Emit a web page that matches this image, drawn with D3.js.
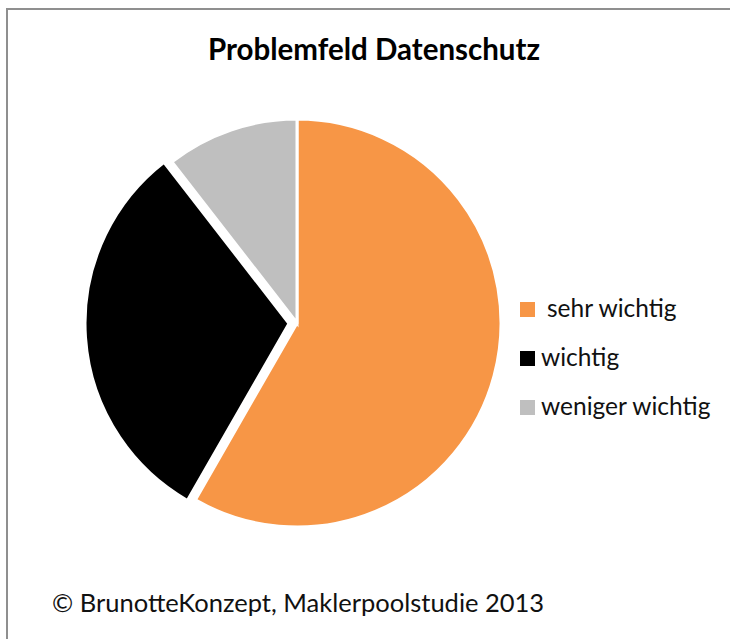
<!DOCTYPE html>
<html>
<head>
<meta charset="utf-8">
<script src="https://cdn.jsdelivr.net/npm/d3@7"></script>
<style>
  body { margin: 0; background: #fff; }
  text { font-family: Lato, "Open Sans", sans-serif; }
</style>
</head>
<body>
<svg id="chart" width="730" height="639"></svg>
<script>
const categories = ["sehr wichtig", "wichtig", "weniger wichtig"];
const values = [58.3, 31.2, 10.5];
const colors = ["#F79646", "#000000", "#BFBFBF"];
const explode = [0, 8, 0];
const title = "Problemfeld Datenschutz";
const source = "© BrunotteKonzept, Maklerpoolstudie 2013";

const svg = d3.select("#chart");
const cx = 297, cy = 323, radius = 204;

// chart frame
svg.append("rect")
  .attr("x", 7).attr("y", 9)
  .attr("width", 760).attr("height", 700)
  .attr("fill", "none")
  .attr("stroke", "#8f8f8f")
  .attr("stroke-width", 2);

svg.append("text")
  .attr("x", 374).attr("y", 60)
  .attr("text-anchor", "middle")
  .attr("font-size", 29.5)
  .attr("font-weight", "bold")
  .text(title);

const pie = d3.pie().sort(null).value(d => d)(values);
const arc = d3.arc().innerRadius(0).outerRadius(radius);

const g = svg.append("g").attr("transform", `translate(${cx},${cy})`);
g.selectAll("path")
  .data(pie)
  .join("path")
  .attr("transform", (d, i) => {
    const a = (d.startAngle + d.endAngle) / 2;
    return `translate(${Math.sin(a) * explode[i]},${-Math.cos(a) * explode[i]})`;
  })
  .attr("d", arc)
  .attr("fill", (d, i) => colors[i])
  .attr("stroke", "#fff")
  .attr("stroke-width", 3)
  .attr("stroke-linejoin", "miter");

// legend
const legendY = d3.scalePoint().domain(categories).range([317, 415]);
const textX = [547, 541, 541];
const leg = svg.append("g");
categories.forEach((c, i) => {
  leg.append("rect")
    .attr("x", 520).attr("y", legendY(c) - 15)
    .attr("width", 15).attr("height", 15)
    .attr("fill", colors[i]);
  leg.append("text")
    .attr("x", textX[i]).attr("y", legendY(c))
    .attr("font-size", 24.5)
    .attr("fill", "#111")
    .text(c);
});

svg.append("text")
  .attr("x", 52).attr("y", 612)
  .attr("font-size", 25.5)
  .attr("fill", "#111")
  .text(source);
</script>
</body>
</html>
